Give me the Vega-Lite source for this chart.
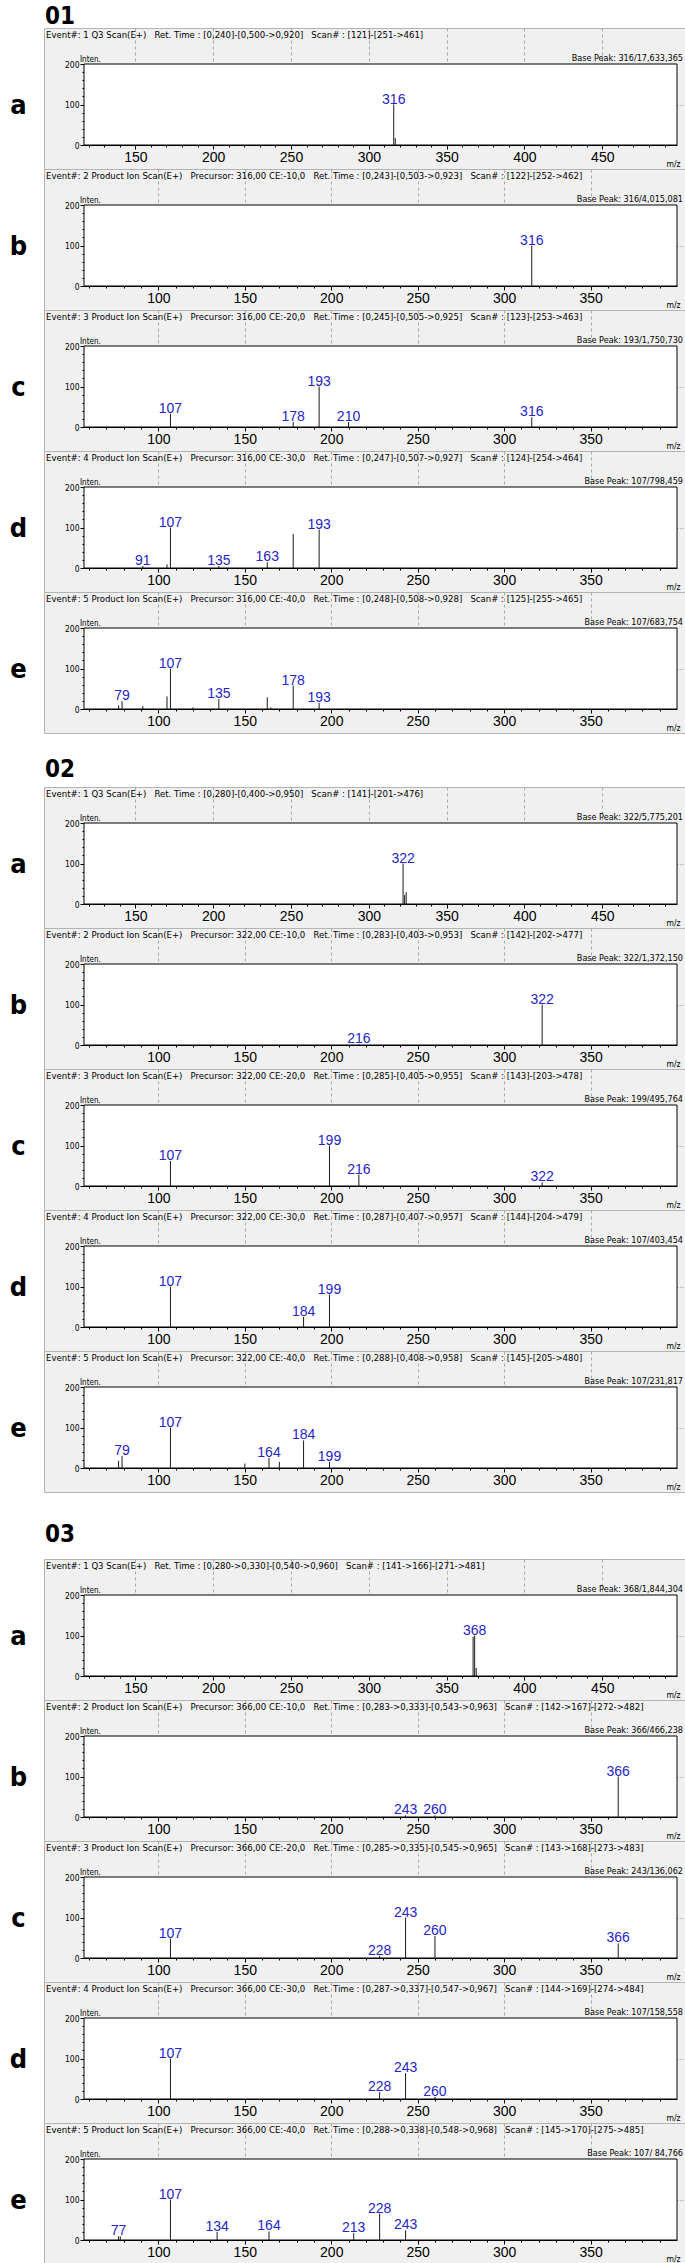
{
"$schema": "https://vega.github.io/schema/vega-lite/v6.json",
"padding": {"left": 8, "top": 5, "right": 0, "bottom": 0},
"background": "#ffffff",
"spacing": 0,
"bounds": "flush",
"config": {
 "view": {"stroke": null},
 "font": "Liberation Sans",
 "title": {"font": "Liberation Sans Narrow, Arial Narrow, DejaVu Sans Condensed, sans-serif", "fontSize": 9.5, "fontWeight": "normal", "color": "#000000", "baseline": "alphabetic", "anchor": "start", "frame": "group", "orient": "top"},
 "axis": {"domainColor": "#000000", "tickColor": "#000000", "tickSize": 4, "labelColor": "#000000", "gridColor": "#a8a8a8", "labelOverlap": false, "labelFlush": false, "zindex": 1, "titleColor": "#000000"},
 "axisX": {"offset": -24, "labelFontSize": 14, "labelFont": "Liberation Sans", "labelPadding": 1, "titleX": 636, "titleY": 21, "titleAlign": "right", "titleBaseline": "alphabetic", "titleFontSize": 8.5, "titleFontWeight": "normal", "titleFont": "Liberation Sans Narrow, Arial Narrow, DejaVu Sans Condensed, sans-serif", "gridDash": [3, 3], "labelExpr": "datum.value % 50 === 0 ? datum.label : ''"},
 "axisY": {"offset": -40, "labelFontSize": 8.5, "labelFont": "Liberation Sans Narrow, Arial Narrow, DejaVu Sans Condensed, sans-serif", "labelPadding": 1, "titleAngle": 0, "titleX": -66, "titleY": 77, "titleAlign": "center", "titleBaseline": "middle", "titleFontSize": 27, "titleFontWeight": "bold", "titleFont": "Liberation Sans Narrow, Arial Narrow, DejaVu Sans Condensed, sans-serif", "gridDash": [2, 2], "labelExpr": "datum.value % 100 === 0 ? datum.label : ''"},
 "text": {"font": "Liberation Sans"}
},
"data": {"values": [
 {"s":"01a","mz":316,"int":100,"lab":"316"},{"s":"01a","mz":317,"int":17,"lab":""},
 {"s":"01b","mz":316,"int":100,"lab":"316"},
 {"s":"01c","mz":107,"int":33,"lab":"107"},{"s":"01c","mz":178,"int":12,"lab":"178"},{"s":"01c","mz":193,"int":100,"lab":"193"},{"s":"01c","mz":210,"int":12,"lab":"210"},{"s":"01c","mz":316,"int":24,"lab":"316"},
 {"s":"01d","mz":91,"int":5,"lab":"91"},{"s":"01d","mz":105,"int":9,"lab":""},{"s":"01d","mz":107,"int":100,"lab":"107"},{"s":"01d","mz":135,"int":5,"lab":"135"},{"s":"01d","mz":163,"int":14,"lab":"163"},{"s":"01d","mz":178,"int":84,"lab":""},{"s":"01d","mz":193,"int":95,"lab":"193"},
 {"s":"01e","mz":77,"int":9,"lab":""},{"s":"01e","mz":79,"int":19,"lab":"79"},{"s":"01e","mz":91,"int":7,"lab":""},{"s":"01e","mz":105,"int":31,"lab":""},{"s":"01e","mz":107,"int":100,"lab":"107"},{"s":"01e","mz":120,"int":4,"lab":""},{"s":"01e","mz":135,"int":25,"lab":"135"},{"s":"01e","mz":163,"int":29,"lab":""},{"s":"01e","mz":165,"int":4,"lab":""},{"s":"01e","mz":178,"int":58,"lab":"178"},{"s":"01e","mz":193,"int":15,"lab":"193"},
 {"s":"02a","mz":322,"int":100,"lab":"322"},{"s":"02a","mz":323,"int":22,"lab":""},{"s":"02a","mz":324,"int":29,"lab":""},
 {"s":"02b","mz":216,"int":2,"lab":"216"},{"s":"02b","mz":322,"int":100,"lab":"322"},
 {"s":"02c","mz":107,"int":62,"lab":"107"},{"s":"02c","mz":199,"int":100,"lab":"199"},{"s":"02c","mz":216,"int":28,"lab":"216"},{"s":"02c","mz":322,"int":9,"lab":"322"},
 {"s":"02d","mz":107,"int":100,"lab":"107"},{"s":"02d","mz":184,"int":25,"lab":"184"},{"s":"02d","mz":199,"int":80,"lab":"199"},
 {"s":"02e","mz":77,"int":18,"lab":""},{"s":"02e","mz":79,"int":30,"lab":"79"},{"s":"02e","mz":107,"int":100,"lab":"107"},{"s":"02e","mz":150,"int":11,"lab":""},{"s":"02e","mz":164,"int":25,"lab":"164"},{"s":"02e","mz":170,"int":15,"lab":""},{"s":"02e","mz":184,"int":68,"lab":"184"},{"s":"02e","mz":199,"int":15,"lab":"199"},
 {"s":"03a","mz":367,"int":97,"lab":""},{"s":"03a","mz":368,"int":100,"lab":"368"},{"s":"03a","mz":369,"int":20,"lab":""},
 {"s":"03b","mz":243,"int":4,"lab":"243"},{"s":"03b","mz":260,"int":4,"lab":"260"},{"s":"03b","mz":366,"int":100,"lab":"366"},
 {"s":"03c","mz":107,"int":48,"lab":"107"},{"s":"03c","mz":228,"int":6,"lab":"228"},{"s":"03c","mz":243,"int":100,"lab":"243"},{"s":"03c","mz":260,"int":54,"lab":"260"},{"s":"03c","mz":366,"int":36,"lab":"366"},
 {"s":"03d","mz":107,"int":100,"lab":"107"},{"s":"03d","mz":228,"int":17,"lab":"228"},{"s":"03d","mz":243,"int":64,"lab":"243"},{"s":"03d","mz":260,"int":5,"lab":"260"},
 {"s":"03e","mz":77,"int":9,"lab":"77"},{"s":"03e","mz":78,"int":9,"lab":""},{"s":"03e","mz":107,"int":100,"lab":"107"},{"s":"03e","mz":134,"int":20,"lab":"134"},{"s":"03e","mz":164,"int":21,"lab":"164"},{"s":"03e","mz":213,"int":17,"lab":"213"},{"s":"03e","mz":228,"int":65,"lab":"228"},{"s":"03e","mz":243,"int":24,"lab":"243"}
]},
"vconcat": [
 {"width": 644, "height": 21, "data": {"values": []}, "mark": "point", "title": {"text": "01", "offset": -22, "dx": 1, "fontSize": 24, "fontWeight": "bold"}},
 {"width": 644, "height": 141, "view": {"fill": "#f0f0f0", "stroke": "#b4b4b4"},
  "title": {"text": "Event#: 1 Q3 Scan(E+)\u00a0\u00a0\u00a0Ret. Time : [0,240]-[0,500->0,920]\u00a0\u00a0\u00a0Scan# : [121]-[251->461]", "offset": -11.5, "dx": 2},
  "layer": [
   {"data": {"values": [{}]}, "mark": {"type": "rect", "fill": "#ffffff", "stroke": "#000000", "strokeWidth": 1}, "encoding": {"x": {"datum": 117, "type": "quantitative"}, "x2": {"datum": 498}, "y": {"datum": 0, "type": "quantitative"}, "y2": {"datum": 200}}},
   {"transform": [{"filter": "datum.s === '01a'"}], "mark": {"type": "rule", "color": "#1a1a1a", "strokeWidth": 1}, "encoding": {
     "x": {"field": "mz", "type": "quantitative", "scale": {"domain": [117, 498], "range": [40, 633], "nice": false, "zero": false}, "axis": {"title": "m/z", "tickCount": 100, "grid": true, "values": [120,130,140,150,160,170,180,190,200,210,220,230,240,250,260,270,280,290,300,310,320,330,340,350,360,370,380,390,400,410,420,430,440,450,460,470,480,490], "tickDash": {"condition": {"test": "datum.value % 50 === 0", "value": [10, 0]}, "value": [2, 10]}, "gridOpacity": {"condition": {"test": "datum.value % 50 === 0", "value": 1}, "value": 0}}},
     "y": {"field": "int", "type": "quantitative", "scale": {"domain": [0, 200], "range": [117, 36], "nice": false, "zero": false}, "axis": {"title": "a", "tickCount": 100, "grid": true, "values": [0,20,40,60,80,100,120,140,160,180,200], "tickDash": {"condition": {"test": "datum.value % 100 === 0", "value": [10, 0]}, "value": [2, 10]}, "gridOpacity": {"condition": {"test": "datum.value === 100", "value": 1}, "value": 0}}},
     "y2": {"datum": 0}}},
   {"transform": [{"filter": "datum.s === '01a' && datum.lab !== ''"}], "mark": {"type": "text", "color": "#2626c8", "fontSize": 14, "baseline": "alphabetic", "dy": -1}, "encoding": {"x": {"field": "mz", "type": "quantitative"}, "y": {"field": "int", "type": "quantitative"}, "text": {"field": "lab"}}},
   {"data": {"values": [{}]}, "mark": {"type": "text", "text": "Inten.", "align": "left", "baseline": "alphabetic", "dx": -4, "dy": -2, "fontSize": 8, "font": "Liberation Sans Narrow, Arial Narrow, DejaVu Sans Condensed, sans-serif"}, "encoding": {"x": {"datum": 117, "type": "quantitative"}, "y": {"datum": 200, "type": "quantitative"}}},
   {"data": {"values": [{}]}, "mark": {"type": "text", "text": "Base Peak: 316/17,633,365", "align": "right", "baseline": "alphabetic", "dx": 6, "dy": -3, "fontSize": 9, "font": "Liberation Sans Narrow, Arial Narrow, DejaVu Sans Condensed, sans-serif"}, "encoding": {"x": {"datum": 498, "type": "quantitative"}, "y": {"datum": 200, "type": "quantitative"}}}
  ]},
 {"width": 644, "height": 141, "view": {"fill": "#f0f0f0", "stroke": "#b4b4b4"},
  "title": {"text": "Event#: 2 Product Ion Scan(E+)\u00a0\u00a0\u00a0Precursor: 316,00 CE:-10,0\u00a0\u00a0\u00a0Ret. Time : [0,243]-[0,503->0,923]\u00a0\u00a0\u00a0Scan# : [122]-[252->462]", "offset": -11.5, "dx": 2},
  "layer": [
   {"data": {"values": [{}]}, "mark": {"type": "rect", "fill": "#ffffff", "stroke": "#000000", "strokeWidth": 1}, "encoding": {"x": {"datum": 57, "type": "quantitative"}, "x2": {"datum": 400}, "y": {"datum": 0, "type": "quantitative"}, "y2": {"datum": 200}}},
   {"transform": [{"filter": "datum.s === '01b'"}], "mark": {"type": "rule", "color": "#1a1a1a", "strokeWidth": 1}, "encoding": {
     "x": {"field": "mz", "type": "quantitative", "scale": {"domain": [57, 400], "range": [40, 633], "nice": false, "zero": false}, "axis": {"title": "m/z", "tickCount": 100, "grid": true, "values": [60,70,80,90,100,110,120,130,140,150,160,170,180,190,200,210,220,230,240,250,260,270,280,290,300,310,320,330,340,350,360,370,380,390], "tickDash": {"condition": {"test": "datum.value % 50 === 0", "value": [10, 0]}, "value": [2, 10]}, "gridOpacity": {"condition": {"test": "datum.value % 50 === 0", "value": 1}, "value": 0}}},
     "y": {"field": "int", "type": "quantitative", "scale": {"domain": [0, 200], "range": [117, 36], "nice": false, "zero": false}, "axis": {"title": "b", "tickCount": 100, "grid": true, "values": [0,20,40,60,80,100,120,140,160,180,200], "tickDash": {"condition": {"test": "datum.value % 100 === 0", "value": [10, 0]}, "value": [2, 10]}, "gridOpacity": {"condition": {"test": "datum.value === 100", "value": 1}, "value": 0}}},
     "y2": {"datum": 0}}},
   {"transform": [{"filter": "datum.s === '01b' && datum.lab !== ''"}], "mark": {"type": "text", "color": "#2626c8", "fontSize": 14, "baseline": "alphabetic", "dy": -1}, "encoding": {"x": {"field": "mz", "type": "quantitative"}, "y": {"field": "int", "type": "quantitative"}, "text": {"field": "lab"}}},
   {"data": {"values": [{}]}, "mark": {"type": "text", "text": "Inten.", "align": "left", "baseline": "alphabetic", "dx": -4, "dy": -2, "fontSize": 8, "font": "Liberation Sans Narrow, Arial Narrow, DejaVu Sans Condensed, sans-serif"}, "encoding": {"x": {"datum": 57, "type": "quantitative"}, "y": {"datum": 200, "type": "quantitative"}}},
   {"data": {"values": [{}]}, "mark": {"type": "text", "text": "Base Peak: 316/4,015,081", "align": "right", "baseline": "alphabetic", "dx": 6, "dy": -3, "fontSize": 9, "font": "Liberation Sans Narrow, Arial Narrow, DejaVu Sans Condensed, sans-serif"}, "encoding": {"x": {"datum": 400, "type": "quantitative"}, "y": {"datum": 200, "type": "quantitative"}}}
  ]},
 {"width": 644, "height": 141, "view": {"fill": "#f0f0f0", "stroke": "#b4b4b4"},
  "title": {"text": "Event#: 3 Product Ion Scan(E+)\u00a0\u00a0\u00a0Precursor: 316,00 CE:-20,0\u00a0\u00a0\u00a0Ret. Time : [0,245]-[0,505->0,925]\u00a0\u00a0\u00a0Scan# : [123]-[253->463]", "offset": -11.5, "dx": 2},
  "layer": [
   {"data": {"values": [{}]}, "mark": {"type": "rect", "fill": "#ffffff", "stroke": "#000000", "strokeWidth": 1}, "encoding": {"x": {"datum": 57, "type": "quantitative"}, "x2": {"datum": 400}, "y": {"datum": 0, "type": "quantitative"}, "y2": {"datum": 200}}},
   {"transform": [{"filter": "datum.s === '01c'"}], "mark": {"type": "rule", "color": "#1a1a1a", "strokeWidth": 1}, "encoding": {
     "x": {"field": "mz", "type": "quantitative", "scale": {"domain": [57, 400], "range": [40, 633], "nice": false, "zero": false}, "axis": {"title": "m/z", "tickCount": 100, "grid": true, "values": [60,70,80,90,100,110,120,130,140,150,160,170,180,190,200,210,220,230,240,250,260,270,280,290,300,310,320,330,340,350,360,370,380,390], "tickDash": {"condition": {"test": "datum.value % 50 === 0", "value": [10, 0]}, "value": [2, 10]}, "gridOpacity": {"condition": {"test": "datum.value % 50 === 0", "value": 1}, "value": 0}}},
     "y": {"field": "int", "type": "quantitative", "scale": {"domain": [0, 200], "range": [117, 36], "nice": false, "zero": false}, "axis": {"title": "c", "tickCount": 100, "grid": true, "values": [0,20,40,60,80,100,120,140,160,180,200], "tickDash": {"condition": {"test": "datum.value % 100 === 0", "value": [10, 0]}, "value": [2, 10]}, "gridOpacity": {"condition": {"test": "datum.value === 100", "value": 1}, "value": 0}}},
     "y2": {"datum": 0}}},
   {"transform": [{"filter": "datum.s === '01c' && datum.lab !== ''"}], "mark": {"type": "text", "color": "#2626c8", "fontSize": 14, "baseline": "alphabetic", "dy": -1}, "encoding": {"x": {"field": "mz", "type": "quantitative"}, "y": {"field": "int", "type": "quantitative"}, "text": {"field": "lab"}}},
   {"data": {"values": [{}]}, "mark": {"type": "text", "text": "Inten.", "align": "left", "baseline": "alphabetic", "dx": -4, "dy": -2, "fontSize": 8, "font": "Liberation Sans Narrow, Arial Narrow, DejaVu Sans Condensed, sans-serif"}, "encoding": {"x": {"datum": 57, "type": "quantitative"}, "y": {"datum": 200, "type": "quantitative"}}},
   {"data": {"values": [{}]}, "mark": {"type": "text", "text": "Base Peak: 193/1,750,730", "align": "right", "baseline": "alphabetic", "dx": 6, "dy": -3, "fontSize": 9, "font": "Liberation Sans Narrow, Arial Narrow, DejaVu Sans Condensed, sans-serif"}, "encoding": {"x": {"datum": 400, "type": "quantitative"}, "y": {"datum": 200, "type": "quantitative"}}}
  ]},
 {"width": 644, "height": 141, "view": {"fill": "#f0f0f0", "stroke": "#b4b4b4"},
  "title": {"text": "Event#: 4 Product Ion Scan(E+)\u00a0\u00a0\u00a0Precursor: 316,00 CE:-30,0\u00a0\u00a0\u00a0Ret. Time : [0,247]-[0,507->0,927]\u00a0\u00a0\u00a0Scan# : [124]-[254->464]", "offset": -11.5, "dx": 2},
  "layer": [
   {"data": {"values": [{}]}, "mark": {"type": "rect", "fill": "#ffffff", "stroke": "#000000", "strokeWidth": 1}, "encoding": {"x": {"datum": 57, "type": "quantitative"}, "x2": {"datum": 400}, "y": {"datum": 0, "type": "quantitative"}, "y2": {"datum": 200}}},
   {"transform": [{"filter": "datum.s === '01d'"}], "mark": {"type": "rule", "color": "#1a1a1a", "strokeWidth": 1}, "encoding": {
     "x": {"field": "mz", "type": "quantitative", "scale": {"domain": [57, 400], "range": [40, 633], "nice": false, "zero": false}, "axis": {"title": "m/z", "tickCount": 100, "grid": true, "values": [60,70,80,90,100,110,120,130,140,150,160,170,180,190,200,210,220,230,240,250,260,270,280,290,300,310,320,330,340,350,360,370,380,390], "tickDash": {"condition": {"test": "datum.value % 50 === 0", "value": [10, 0]}, "value": [2, 10]}, "gridOpacity": {"condition": {"test": "datum.value % 50 === 0", "value": 1}, "value": 0}}},
     "y": {"field": "int", "type": "quantitative", "scale": {"domain": [0, 200], "range": [117, 36], "nice": false, "zero": false}, "axis": {"title": "d", "tickCount": 100, "grid": true, "values": [0,20,40,60,80,100,120,140,160,180,200], "tickDash": {"condition": {"test": "datum.value % 100 === 0", "value": [10, 0]}, "value": [2, 10]}, "gridOpacity": {"condition": {"test": "datum.value === 100", "value": 1}, "value": 0}}},
     "y2": {"datum": 0}}},
   {"transform": [{"filter": "datum.s === '01d' && datum.lab !== ''"}], "mark": {"type": "text", "color": "#2626c8", "fontSize": 14, "baseline": "alphabetic", "dy": -1}, "encoding": {"x": {"field": "mz", "type": "quantitative"}, "y": {"field": "int", "type": "quantitative"}, "text": {"field": "lab"}}},
   {"data": {"values": [{}]}, "mark": {"type": "text", "text": "Inten.", "align": "left", "baseline": "alphabetic", "dx": -4, "dy": -2, "fontSize": 8, "font": "Liberation Sans Narrow, Arial Narrow, DejaVu Sans Condensed, sans-serif"}, "encoding": {"x": {"datum": 57, "type": "quantitative"}, "y": {"datum": 200, "type": "quantitative"}}},
   {"data": {"values": [{}]}, "mark": {"type": "text", "text": "Base Peak: 107/798,459", "align": "right", "baseline": "alphabetic", "dx": 6, "dy": -3, "fontSize": 9, "font": "Liberation Sans Narrow, Arial Narrow, DejaVu Sans Condensed, sans-serif"}, "encoding": {"x": {"datum": 400, "type": "quantitative"}, "y": {"datum": 200, "type": "quantitative"}}}
  ]},
 {"width": 644, "height": 141, "view": {"fill": "#f0f0f0", "stroke": "#b4b4b4"},
  "title": {"text": "Event#: 5 Product Ion Scan(E+)\u00a0\u00a0\u00a0Precursor: 316,00 CE:-40,0\u00a0\u00a0\u00a0Ret. Time : [0,248]-[0,508->0,928]\u00a0\u00a0\u00a0Scan# : [125]-[255->465]", "offset": -11.5, "dx": 2},
  "layer": [
   {"data": {"values": [{}]}, "mark": {"type": "rect", "fill": "#ffffff", "stroke": "#000000", "strokeWidth": 1}, "encoding": {"x": {"datum": 57, "type": "quantitative"}, "x2": {"datum": 400}, "y": {"datum": 0, "type": "quantitative"}, "y2": {"datum": 200}}},
   {"transform": [{"filter": "datum.s === '01e'"}], "mark": {"type": "rule", "color": "#1a1a1a", "strokeWidth": 1}, "encoding": {
     "x": {"field": "mz", "type": "quantitative", "scale": {"domain": [57, 400], "range": [40, 633], "nice": false, "zero": false}, "axis": {"title": "m/z", "tickCount": 100, "grid": true, "values": [60,70,80,90,100,110,120,130,140,150,160,170,180,190,200,210,220,230,240,250,260,270,280,290,300,310,320,330,340,350,360,370,380,390], "tickDash": {"condition": {"test": "datum.value % 50 === 0", "value": [10, 0]}, "value": [2, 10]}, "gridOpacity": {"condition": {"test": "datum.value % 50 === 0", "value": 1}, "value": 0}}},
     "y": {"field": "int", "type": "quantitative", "scale": {"domain": [0, 200], "range": [117, 36], "nice": false, "zero": false}, "axis": {"title": "e", "tickCount": 100, "grid": true, "values": [0,20,40,60,80,100,120,140,160,180,200], "tickDash": {"condition": {"test": "datum.value % 100 === 0", "value": [10, 0]}, "value": [2, 10]}, "gridOpacity": {"condition": {"test": "datum.value === 100", "value": 1}, "value": 0}}},
     "y2": {"datum": 0}}},
   {"transform": [{"filter": "datum.s === '01e' && datum.lab !== ''"}], "mark": {"type": "text", "color": "#2626c8", "fontSize": 14, "baseline": "alphabetic", "dy": -1}, "encoding": {"x": {"field": "mz", "type": "quantitative"}, "y": {"field": "int", "type": "quantitative"}, "text": {"field": "lab"}}},
   {"data": {"values": [{}]}, "mark": {"type": "text", "text": "Inten.", "align": "left", "baseline": "alphabetic", "dx": -4, "dy": -2, "fontSize": 8, "font": "Liberation Sans Narrow, Arial Narrow, DejaVu Sans Condensed, sans-serif"}, "encoding": {"x": {"datum": 57, "type": "quantitative"}, "y": {"datum": 200, "type": "quantitative"}}},
   {"data": {"values": [{}]}, "mark": {"type": "text", "text": "Base Peak: 107/683,754", "align": "right", "baseline": "alphabetic", "dx": 6, "dy": -3, "fontSize": 9, "font": "Liberation Sans Narrow, Arial Narrow, DejaVu Sans Condensed, sans-serif"}, "encoding": {"x": {"datum": 400, "type": "quantitative"}, "y": {"datum": 200, "type": "quantitative"}}}
  ]},
 {"width": 644, "height": 54, "data": {"values": []}, "mark": "point", "title": {"text": "02", "offset": -49, "dx": 1, "fontSize": 24, "fontWeight": "bold"}},
 {"width": 644, "height": 141, "view": {"fill": "#f0f0f0", "stroke": "#b4b4b4"},
  "title": {"text": "Event#: 1 Q3 Scan(E+)\u00a0\u00a0\u00a0Ret. Time : [0,280]-[0,400->0,950]\u00a0\u00a0\u00a0Scan# : [141]-[201->476]", "offset": -11.5, "dx": 2},
  "layer": [
   {"data": {"values": [{}]}, "mark": {"type": "rect", "fill": "#ffffff", "stroke": "#000000", "strokeWidth": 1}, "encoding": {"x": {"datum": 117, "type": "quantitative"}, "x2": {"datum": 498}, "y": {"datum": 0, "type": "quantitative"}, "y2": {"datum": 200}}},
   {"transform": [{"filter": "datum.s === '02a'"}], "mark": {"type": "rule", "color": "#1a1a1a", "strokeWidth": 1}, "encoding": {
     "x": {"field": "mz", "type": "quantitative", "scale": {"domain": [117, 498], "range": [40, 633], "nice": false, "zero": false}, "axis": {"title": "m/z", "tickCount": 100, "grid": true, "values": [120,130,140,150,160,170,180,190,200,210,220,230,240,250,260,270,280,290,300,310,320,330,340,350,360,370,380,390,400,410,420,430,440,450,460,470,480,490], "tickDash": {"condition": {"test": "datum.value % 50 === 0", "value": [10, 0]}, "value": [2, 10]}, "gridOpacity": {"condition": {"test": "datum.value % 50 === 0", "value": 1}, "value": 0}}},
     "y": {"field": "int", "type": "quantitative", "scale": {"domain": [0, 200], "range": [117, 36], "nice": false, "zero": false}, "axis": {"title": "a", "tickCount": 100, "grid": true, "values": [0,20,40,60,80,100,120,140,160,180,200], "tickDash": {"condition": {"test": "datum.value % 100 === 0", "value": [10, 0]}, "value": [2, 10]}, "gridOpacity": {"condition": {"test": "datum.value === 100", "value": 1}, "value": 0}}},
     "y2": {"datum": 0}}},
   {"transform": [{"filter": "datum.s === '02a' && datum.lab !== ''"}], "mark": {"type": "text", "color": "#2626c8", "fontSize": 14, "baseline": "alphabetic", "dy": -1}, "encoding": {"x": {"field": "mz", "type": "quantitative"}, "y": {"field": "int", "type": "quantitative"}, "text": {"field": "lab"}}},
   {"data": {"values": [{}]}, "mark": {"type": "text", "text": "Inten.", "align": "left", "baseline": "alphabetic", "dx": -4, "dy": -2, "fontSize": 8, "font": "Liberation Sans Narrow, Arial Narrow, DejaVu Sans Condensed, sans-serif"}, "encoding": {"x": {"datum": 117, "type": "quantitative"}, "y": {"datum": 200, "type": "quantitative"}}},
   {"data": {"values": [{}]}, "mark": {"type": "text", "text": "Base Peak: 322/5,775,201", "align": "right", "baseline": "alphabetic", "dx": 6, "dy": -3, "fontSize": 9, "font": "Liberation Sans Narrow, Arial Narrow, DejaVu Sans Condensed, sans-serif"}, "encoding": {"x": {"datum": 498, "type": "quantitative"}, "y": {"datum": 200, "type": "quantitative"}}}
  ]},
 {"width": 644, "height": 141, "view": {"fill": "#f0f0f0", "stroke": "#b4b4b4"},
  "title": {"text": "Event#: 2 Product Ion Scan(E+)\u00a0\u00a0\u00a0Precursor: 322,00 CE:-10,0\u00a0\u00a0\u00a0Ret. Time : [0,283]-[0,403->0,953]\u00a0\u00a0\u00a0Scan# : [142]-[202->477]", "offset": -11.5, "dx": 2},
  "layer": [
   {"data": {"values": [{}]}, "mark": {"type": "rect", "fill": "#ffffff", "stroke": "#000000", "strokeWidth": 1}, "encoding": {"x": {"datum": 57, "type": "quantitative"}, "x2": {"datum": 400}, "y": {"datum": 0, "type": "quantitative"}, "y2": {"datum": 200}}},
   {"transform": [{"filter": "datum.s === '02b'"}], "mark": {"type": "rule", "color": "#1a1a1a", "strokeWidth": 1}, "encoding": {
     "x": {"field": "mz", "type": "quantitative", "scale": {"domain": [57, 400], "range": [40, 633], "nice": false, "zero": false}, "axis": {"title": "m/z", "tickCount": 100, "grid": true, "values": [60,70,80,90,100,110,120,130,140,150,160,170,180,190,200,210,220,230,240,250,260,270,280,290,300,310,320,330,340,350,360,370,380,390], "tickDash": {"condition": {"test": "datum.value % 50 === 0", "value": [10, 0]}, "value": [2, 10]}, "gridOpacity": {"condition": {"test": "datum.value % 50 === 0", "value": 1}, "value": 0}}},
     "y": {"field": "int", "type": "quantitative", "scale": {"domain": [0, 200], "range": [117, 36], "nice": false, "zero": false}, "axis": {"title": "b", "tickCount": 100, "grid": true, "values": [0,20,40,60,80,100,120,140,160,180,200], "tickDash": {"condition": {"test": "datum.value % 100 === 0", "value": [10, 0]}, "value": [2, 10]}, "gridOpacity": {"condition": {"test": "datum.value === 100", "value": 1}, "value": 0}}},
     "y2": {"datum": 0}}},
   {"transform": [{"filter": "datum.s === '02b' && datum.lab !== ''"}], "mark": {"type": "text", "color": "#2626c8", "fontSize": 14, "baseline": "alphabetic", "dy": -1}, "encoding": {"x": {"field": "mz", "type": "quantitative"}, "y": {"field": "int", "type": "quantitative"}, "text": {"field": "lab"}}},
   {"data": {"values": [{}]}, "mark": {"type": "text", "text": "Inten.", "align": "left", "baseline": "alphabetic", "dx": -4, "dy": -2, "fontSize": 8, "font": "Liberation Sans Narrow, Arial Narrow, DejaVu Sans Condensed, sans-serif"}, "encoding": {"x": {"datum": 57, "type": "quantitative"}, "y": {"datum": 200, "type": "quantitative"}}},
   {"data": {"values": [{}]}, "mark": {"type": "text", "text": "Base Peak: 322/1,372,150", "align": "right", "baseline": "alphabetic", "dx": 6, "dy": -3, "fontSize": 9, "font": "Liberation Sans Narrow, Arial Narrow, DejaVu Sans Condensed, sans-serif"}, "encoding": {"x": {"datum": 400, "type": "quantitative"}, "y": {"datum": 200, "type": "quantitative"}}}
  ]},
 {"width": 644, "height": 141, "view": {"fill": "#f0f0f0", "stroke": "#b4b4b4"},
  "title": {"text": "Event#: 3 Product Ion Scan(E+)\u00a0\u00a0\u00a0Precursor: 322,00 CE:-20,0\u00a0\u00a0\u00a0Ret. Time : [0,285]-[0,405->0,955]\u00a0\u00a0\u00a0Scan# : [143]-[203->478]", "offset": -11.5, "dx": 2},
  "layer": [
   {"data": {"values": [{}]}, "mark": {"type": "rect", "fill": "#ffffff", "stroke": "#000000", "strokeWidth": 1}, "encoding": {"x": {"datum": 57, "type": "quantitative"}, "x2": {"datum": 400}, "y": {"datum": 0, "type": "quantitative"}, "y2": {"datum": 200}}},
   {"transform": [{"filter": "datum.s === '02c'"}], "mark": {"type": "rule", "color": "#1a1a1a", "strokeWidth": 1}, "encoding": {
     "x": {"field": "mz", "type": "quantitative", "scale": {"domain": [57, 400], "range": [40, 633], "nice": false, "zero": false}, "axis": {"title": "m/z", "tickCount": 100, "grid": true, "values": [60,70,80,90,100,110,120,130,140,150,160,170,180,190,200,210,220,230,240,250,260,270,280,290,300,310,320,330,340,350,360,370,380,390], "tickDash": {"condition": {"test": "datum.value % 50 === 0", "value": [10, 0]}, "value": [2, 10]}, "gridOpacity": {"condition": {"test": "datum.value % 50 === 0", "value": 1}, "value": 0}}},
     "y": {"field": "int", "type": "quantitative", "scale": {"domain": [0, 200], "range": [117, 36], "nice": false, "zero": false}, "axis": {"title": "c", "tickCount": 100, "grid": true, "values": [0,20,40,60,80,100,120,140,160,180,200], "tickDash": {"condition": {"test": "datum.value % 100 === 0", "value": [10, 0]}, "value": [2, 10]}, "gridOpacity": {"condition": {"test": "datum.value === 100", "value": 1}, "value": 0}}},
     "y2": {"datum": 0}}},
   {"transform": [{"filter": "datum.s === '02c' && datum.lab !== ''"}], "mark": {"type": "text", "color": "#2626c8", "fontSize": 14, "baseline": "alphabetic", "dy": -1}, "encoding": {"x": {"field": "mz", "type": "quantitative"}, "y": {"field": "int", "type": "quantitative"}, "text": {"field": "lab"}}},
   {"data": {"values": [{}]}, "mark": {"type": "text", "text": "Inten.", "align": "left", "baseline": "alphabetic", "dx": -4, "dy": -2, "fontSize": 8, "font": "Liberation Sans Narrow, Arial Narrow, DejaVu Sans Condensed, sans-serif"}, "encoding": {"x": {"datum": 57, "type": "quantitative"}, "y": {"datum": 200, "type": "quantitative"}}},
   {"data": {"values": [{}]}, "mark": {"type": "text", "text": "Base Peak: 199/495,764", "align": "right", "baseline": "alphabetic", "dx": 6, "dy": -3, "fontSize": 9, "font": "Liberation Sans Narrow, Arial Narrow, DejaVu Sans Condensed, sans-serif"}, "encoding": {"x": {"datum": 400, "type": "quantitative"}, "y": {"datum": 200, "type": "quantitative"}}}
  ]},
 {"width": 644, "height": 141, "view": {"fill": "#f0f0f0", "stroke": "#b4b4b4"},
  "title": {"text": "Event#: 4 Product Ion Scan(E+)\u00a0\u00a0\u00a0Precursor: 322,00 CE:-30,0\u00a0\u00a0\u00a0Ret. Time : [0,287]-[0,407->0,957]\u00a0\u00a0\u00a0Scan# : [144]-[204->479]", "offset": -11.5, "dx": 2},
  "layer": [
   {"data": {"values": [{}]}, "mark": {"type": "rect", "fill": "#ffffff", "stroke": "#000000", "strokeWidth": 1}, "encoding": {"x": {"datum": 57, "type": "quantitative"}, "x2": {"datum": 400}, "y": {"datum": 0, "type": "quantitative"}, "y2": {"datum": 200}}},
   {"transform": [{"filter": "datum.s === '02d'"}], "mark": {"type": "rule", "color": "#1a1a1a", "strokeWidth": 1}, "encoding": {
     "x": {"field": "mz", "type": "quantitative", "scale": {"domain": [57, 400], "range": [40, 633], "nice": false, "zero": false}, "axis": {"title": "m/z", "tickCount": 100, "grid": true, "values": [60,70,80,90,100,110,120,130,140,150,160,170,180,190,200,210,220,230,240,250,260,270,280,290,300,310,320,330,340,350,360,370,380,390], "tickDash": {"condition": {"test": "datum.value % 50 === 0", "value": [10, 0]}, "value": [2, 10]}, "gridOpacity": {"condition": {"test": "datum.value % 50 === 0", "value": 1}, "value": 0}}},
     "y": {"field": "int", "type": "quantitative", "scale": {"domain": [0, 200], "range": [117, 36], "nice": false, "zero": false}, "axis": {"title": "d", "tickCount": 100, "grid": true, "values": [0,20,40,60,80,100,120,140,160,180,200], "tickDash": {"condition": {"test": "datum.value % 100 === 0", "value": [10, 0]}, "value": [2, 10]}, "gridOpacity": {"condition": {"test": "datum.value === 100", "value": 1}, "value": 0}}},
     "y2": {"datum": 0}}},
   {"transform": [{"filter": "datum.s === '02d' && datum.lab !== ''"}], "mark": {"type": "text", "color": "#2626c8", "fontSize": 14, "baseline": "alphabetic", "dy": -1}, "encoding": {"x": {"field": "mz", "type": "quantitative"}, "y": {"field": "int", "type": "quantitative"}, "text": {"field": "lab"}}},
   {"data": {"values": [{}]}, "mark": {"type": "text", "text": "Inten.", "align": "left", "baseline": "alphabetic", "dx": -4, "dy": -2, "fontSize": 8, "font": "Liberation Sans Narrow, Arial Narrow, DejaVu Sans Condensed, sans-serif"}, "encoding": {"x": {"datum": 57, "type": "quantitative"}, "y": {"datum": 200, "type": "quantitative"}}},
   {"data": {"values": [{}]}, "mark": {"type": "text", "text": "Base Peak: 107/403,454", "align": "right", "baseline": "alphabetic", "dx": 6, "dy": -3, "fontSize": 9, "font": "Liberation Sans Narrow, Arial Narrow, DejaVu Sans Condensed, sans-serif"}, "encoding": {"x": {"datum": 400, "type": "quantitative"}, "y": {"datum": 200, "type": "quantitative"}}}
  ]},
 {"width": 644, "height": 141, "view": {"fill": "#f0f0f0", "stroke": "#b4b4b4"},
  "title": {"text": "Event#: 5 Product Ion Scan(E+)\u00a0\u00a0\u00a0Precursor: 322,00 CE:-40,0\u00a0\u00a0\u00a0Ret. Time : [0,288]-[0,408->0,958]\u00a0\u00a0\u00a0Scan# : [145]-[205->480]", "offset": -11.5, "dx": 2},
  "layer": [
   {"data": {"values": [{}]}, "mark": {"type": "rect", "fill": "#ffffff", "stroke": "#000000", "strokeWidth": 1}, "encoding": {"x": {"datum": 57, "type": "quantitative"}, "x2": {"datum": 400}, "y": {"datum": 0, "type": "quantitative"}, "y2": {"datum": 200}}},
   {"transform": [{"filter": "datum.s === '02e'"}], "mark": {"type": "rule", "color": "#1a1a1a", "strokeWidth": 1}, "encoding": {
     "x": {"field": "mz", "type": "quantitative", "scale": {"domain": [57, 400], "range": [40, 633], "nice": false, "zero": false}, "axis": {"title": "m/z", "tickCount": 100, "grid": true, "values": [60,70,80,90,100,110,120,130,140,150,160,170,180,190,200,210,220,230,240,250,260,270,280,290,300,310,320,330,340,350,360,370,380,390], "tickDash": {"condition": {"test": "datum.value % 50 === 0", "value": [10, 0]}, "value": [2, 10]}, "gridOpacity": {"condition": {"test": "datum.value % 50 === 0", "value": 1}, "value": 0}}},
     "y": {"field": "int", "type": "quantitative", "scale": {"domain": [0, 200], "range": [117, 36], "nice": false, "zero": false}, "axis": {"title": "e", "tickCount": 100, "grid": true, "values": [0,20,40,60,80,100,120,140,160,180,200], "tickDash": {"condition": {"test": "datum.value % 100 === 0", "value": [10, 0]}, "value": [2, 10]}, "gridOpacity": {"condition": {"test": "datum.value === 100", "value": 1}, "value": 0}}},
     "y2": {"datum": 0}}},
   {"transform": [{"filter": "datum.s === '02e' && datum.lab !== ''"}], "mark": {"type": "text", "color": "#2626c8", "fontSize": 14, "baseline": "alphabetic", "dy": -1}, "encoding": {"x": {"field": "mz", "type": "quantitative"}, "y": {"field": "int", "type": "quantitative"}, "text": {"field": "lab"}}},
   {"data": {"values": [{}]}, "mark": {"type": "text", "text": "Inten.", "align": "left", "baseline": "alphabetic", "dx": -4, "dy": -2, "fontSize": 8, "font": "Liberation Sans Narrow, Arial Narrow, DejaVu Sans Condensed, sans-serif"}, "encoding": {"x": {"datum": 57, "type": "quantitative"}, "y": {"datum": 200, "type": "quantitative"}}},
   {"data": {"values": [{}]}, "mark": {"type": "text", "text": "Base Peak: 107/231,817", "align": "right", "baseline": "alphabetic", "dx": 6, "dy": -3, "fontSize": 9, "font": "Liberation Sans Narrow, Arial Narrow, DejaVu Sans Condensed, sans-serif"}, "encoding": {"x": {"datum": 400, "type": "quantitative"}, "y": {"datum": 200, "type": "quantitative"}}}
  ]},
 {"width": 644, "height": 67, "data": {"values": []}, "mark": "point", "title": {"text": "03", "offset": -55, "dx": 1, "fontSize": 24, "fontWeight": "bold"}},
 {"width": 644, "height": 141, "view": {"fill": "#f0f0f0", "stroke": "#b4b4b4"},
  "title": {"text": "Event#: 1 Q3 Scan(E+)\u00a0\u00a0\u00a0Ret. Time : [0,280->0,330]-[0,540->0,960]\u00a0\u00a0\u00a0Scan# : [141->166]-[271->481]", "offset": -11.5, "dx": 2},
  "layer": [
   {"data": {"values": [{}]}, "mark": {"type": "rect", "fill": "#ffffff", "stroke": "#000000", "strokeWidth": 1}, "encoding": {"x": {"datum": 117, "type": "quantitative"}, "x2": {"datum": 498}, "y": {"datum": 0, "type": "quantitative"}, "y2": {"datum": 200}}},
   {"transform": [{"filter": "datum.s === '03a'"}], "mark": {"type": "rule", "color": "#1a1a1a", "strokeWidth": 1}, "encoding": {
     "x": {"field": "mz", "type": "quantitative", "scale": {"domain": [117, 498], "range": [40, 633], "nice": false, "zero": false}, "axis": {"title": "m/z", "tickCount": 100, "grid": true, "values": [120,130,140,150,160,170,180,190,200,210,220,230,240,250,260,270,280,290,300,310,320,330,340,350,360,370,380,390,400,410,420,430,440,450,460,470,480,490], "tickDash": {"condition": {"test": "datum.value % 50 === 0", "value": [10, 0]}, "value": [2, 10]}, "gridOpacity": {"condition": {"test": "datum.value % 50 === 0", "value": 1}, "value": 0}}},
     "y": {"field": "int", "type": "quantitative", "scale": {"domain": [0, 200], "range": [117, 36], "nice": false, "zero": false}, "axis": {"title": "a", "tickCount": 100, "grid": true, "values": [0,20,40,60,80,100,120,140,160,180,200], "tickDash": {"condition": {"test": "datum.value % 100 === 0", "value": [10, 0]}, "value": [2, 10]}, "gridOpacity": {"condition": {"test": "datum.value === 100", "value": 1}, "value": 0}}},
     "y2": {"datum": 0}}},
   {"transform": [{"filter": "datum.s === '03a' && datum.lab !== ''"}], "mark": {"type": "text", "color": "#2626c8", "fontSize": 14, "baseline": "alphabetic", "dy": -1}, "encoding": {"x": {"field": "mz", "type": "quantitative"}, "y": {"field": "int", "type": "quantitative"}, "text": {"field": "lab"}}},
   {"data": {"values": [{}]}, "mark": {"type": "text", "text": "Inten.", "align": "left", "baseline": "alphabetic", "dx": -4, "dy": -2, "fontSize": 8, "font": "Liberation Sans Narrow, Arial Narrow, DejaVu Sans Condensed, sans-serif"}, "encoding": {"x": {"datum": 117, "type": "quantitative"}, "y": {"datum": 200, "type": "quantitative"}}},
   {"data": {"values": [{}]}, "mark": {"type": "text", "text": "Base Peak: 368/1,844,304", "align": "right", "baseline": "alphabetic", "dx": 6, "dy": -3, "fontSize": 9, "font": "Liberation Sans Narrow, Arial Narrow, DejaVu Sans Condensed, sans-serif"}, "encoding": {"x": {"datum": 498, "type": "quantitative"}, "y": {"datum": 200, "type": "quantitative"}}}
  ]},
 {"width": 644, "height": 141, "view": {"fill": "#f0f0f0", "stroke": "#b4b4b4"},
  "title": {"text": "Event#: 2 Product Ion Scan(E+)\u00a0\u00a0\u00a0Precursor: 366,00 CE:-10,0\u00a0\u00a0\u00a0Ret. Time : [0,283->0,333]-[0,543->0,963]\u00a0\u00a0\u00a0Scan# : [142->167]-[272->482]", "offset": -11.5, "dx": 2},
  "layer": [
   {"data": {"values": [{}]}, "mark": {"type": "rect", "fill": "#ffffff", "stroke": "#000000", "strokeWidth": 1}, "encoding": {"x": {"datum": 57, "type": "quantitative"}, "x2": {"datum": 400}, "y": {"datum": 0, "type": "quantitative"}, "y2": {"datum": 200}}},
   {"transform": [{"filter": "datum.s === '03b'"}], "mark": {"type": "rule", "color": "#1a1a1a", "strokeWidth": 1}, "encoding": {
     "x": {"field": "mz", "type": "quantitative", "scale": {"domain": [57, 400], "range": [40, 633], "nice": false, "zero": false}, "axis": {"title": "m/z", "tickCount": 100, "grid": true, "values": [60,70,80,90,100,110,120,130,140,150,160,170,180,190,200,210,220,230,240,250,260,270,280,290,300,310,320,330,340,350,360,370,380,390], "tickDash": {"condition": {"test": "datum.value % 50 === 0", "value": [10, 0]}, "value": [2, 10]}, "gridOpacity": {"condition": {"test": "datum.value % 50 === 0", "value": 1}, "value": 0}}},
     "y": {"field": "int", "type": "quantitative", "scale": {"domain": [0, 200], "range": [117, 36], "nice": false, "zero": false}, "axis": {"title": "b", "tickCount": 100, "grid": true, "values": [0,20,40,60,80,100,120,140,160,180,200], "tickDash": {"condition": {"test": "datum.value % 100 === 0", "value": [10, 0]}, "value": [2, 10]}, "gridOpacity": {"condition": {"test": "datum.value === 100", "value": 1}, "value": 0}}},
     "y2": {"datum": 0}}},
   {"transform": [{"filter": "datum.s === '03b' && datum.lab !== ''"}], "mark": {"type": "text", "color": "#2626c8", "fontSize": 14, "baseline": "alphabetic", "dy": -1}, "encoding": {"x": {"field": "mz", "type": "quantitative"}, "y": {"field": "int", "type": "quantitative"}, "text": {"field": "lab"}}},
   {"data": {"values": [{}]}, "mark": {"type": "text", "text": "Inten.", "align": "left", "baseline": "alphabetic", "dx": -4, "dy": -2, "fontSize": 8, "font": "Liberation Sans Narrow, Arial Narrow, DejaVu Sans Condensed, sans-serif"}, "encoding": {"x": {"datum": 57, "type": "quantitative"}, "y": {"datum": 200, "type": "quantitative"}}},
   {"data": {"values": [{}]}, "mark": {"type": "text", "text": "Base Peak: 366/466,238", "align": "right", "baseline": "alphabetic", "dx": 6, "dy": -3, "fontSize": 9, "font": "Liberation Sans Narrow, Arial Narrow, DejaVu Sans Condensed, sans-serif"}, "encoding": {"x": {"datum": 400, "type": "quantitative"}, "y": {"datum": 200, "type": "quantitative"}}}
  ]},
 {"width": 644, "height": 141, "view": {"fill": "#f0f0f0", "stroke": "#b4b4b4"},
  "title": {"text": "Event#: 3 Product Ion Scan(E+)\u00a0\u00a0\u00a0Precursor: 366,00 CE:-20,0\u00a0\u00a0\u00a0Ret. Time : [0,285->0,335]-[0,545->0,965]\u00a0\u00a0\u00a0Scan# : [143->168]-[273->483]", "offset": -11.5, "dx": 2},
  "layer": [
   {"data": {"values": [{}]}, "mark": {"type": "rect", "fill": "#ffffff", "stroke": "#000000", "strokeWidth": 1}, "encoding": {"x": {"datum": 57, "type": "quantitative"}, "x2": {"datum": 400}, "y": {"datum": 0, "type": "quantitative"}, "y2": {"datum": 200}}},
   {"transform": [{"filter": "datum.s === '03c'"}], "mark": {"type": "rule", "color": "#1a1a1a", "strokeWidth": 1}, "encoding": {
     "x": {"field": "mz", "type": "quantitative", "scale": {"domain": [57, 400], "range": [40, 633], "nice": false, "zero": false}, "axis": {"title": "m/z", "tickCount": 100, "grid": true, "values": [60,70,80,90,100,110,120,130,140,150,160,170,180,190,200,210,220,230,240,250,260,270,280,290,300,310,320,330,340,350,360,370,380,390], "tickDash": {"condition": {"test": "datum.value % 50 === 0", "value": [10, 0]}, "value": [2, 10]}, "gridOpacity": {"condition": {"test": "datum.value % 50 === 0", "value": 1}, "value": 0}}},
     "y": {"field": "int", "type": "quantitative", "scale": {"domain": [0, 200], "range": [117, 36], "nice": false, "zero": false}, "axis": {"title": "c", "tickCount": 100, "grid": true, "values": [0,20,40,60,80,100,120,140,160,180,200], "tickDash": {"condition": {"test": "datum.value % 100 === 0", "value": [10, 0]}, "value": [2, 10]}, "gridOpacity": {"condition": {"test": "datum.value === 100", "value": 1}, "value": 0}}},
     "y2": {"datum": 0}}},
   {"transform": [{"filter": "datum.s === '03c' && datum.lab !== ''"}], "mark": {"type": "text", "color": "#2626c8", "fontSize": 14, "baseline": "alphabetic", "dy": -1}, "encoding": {"x": {"field": "mz", "type": "quantitative"}, "y": {"field": "int", "type": "quantitative"}, "text": {"field": "lab"}}},
   {"data": {"values": [{}]}, "mark": {"type": "text", "text": "Inten.", "align": "left", "baseline": "alphabetic", "dx": -4, "dy": -2, "fontSize": 8, "font": "Liberation Sans Narrow, Arial Narrow, DejaVu Sans Condensed, sans-serif"}, "encoding": {"x": {"datum": 57, "type": "quantitative"}, "y": {"datum": 200, "type": "quantitative"}}},
   {"data": {"values": [{}]}, "mark": {"type": "text", "text": "Base Peak: 243/136,062", "align": "right", "baseline": "alphabetic", "dx": 6, "dy": -3, "fontSize": 9, "font": "Liberation Sans Narrow, Arial Narrow, DejaVu Sans Condensed, sans-serif"}, "encoding": {"x": {"datum": 400, "type": "quantitative"}, "y": {"datum": 200, "type": "quantitative"}}}
  ]},
 {"width": 644, "height": 141, "view": {"fill": "#f0f0f0", "stroke": "#b4b4b4"},
  "title": {"text": "Event#: 4 Product Ion Scan(E+)\u00a0\u00a0\u00a0Precursor: 366,00 CE:-30,0\u00a0\u00a0\u00a0Ret. Time : [0,287->0,337]-[0,547->0,967]\u00a0\u00a0\u00a0Scan# : [144->169]-[274->484]", "offset": -11.5, "dx": 2},
  "layer": [
   {"data": {"values": [{}]}, "mark": {"type": "rect", "fill": "#ffffff", "stroke": "#000000", "strokeWidth": 1}, "encoding": {"x": {"datum": 57, "type": "quantitative"}, "x2": {"datum": 400}, "y": {"datum": 0, "type": "quantitative"}, "y2": {"datum": 200}}},
   {"transform": [{"filter": "datum.s === '03d'"}], "mark": {"type": "rule", "color": "#1a1a1a", "strokeWidth": 1}, "encoding": {
     "x": {"field": "mz", "type": "quantitative", "scale": {"domain": [57, 400], "range": [40, 633], "nice": false, "zero": false}, "axis": {"title": "m/z", "tickCount": 100, "grid": true, "values": [60,70,80,90,100,110,120,130,140,150,160,170,180,190,200,210,220,230,240,250,260,270,280,290,300,310,320,330,340,350,360,370,380,390], "tickDash": {"condition": {"test": "datum.value % 50 === 0", "value": [10, 0]}, "value": [2, 10]}, "gridOpacity": {"condition": {"test": "datum.value % 50 === 0", "value": 1}, "value": 0}}},
     "y": {"field": "int", "type": "quantitative", "scale": {"domain": [0, 200], "range": [117, 36], "nice": false, "zero": false}, "axis": {"title": "d", "tickCount": 100, "grid": true, "values": [0,20,40,60,80,100,120,140,160,180,200], "tickDash": {"condition": {"test": "datum.value % 100 === 0", "value": [10, 0]}, "value": [2, 10]}, "gridOpacity": {"condition": {"test": "datum.value === 100", "value": 1}, "value": 0}}},
     "y2": {"datum": 0}}},
   {"transform": [{"filter": "datum.s === '03d' && datum.lab !== ''"}], "mark": {"type": "text", "color": "#2626c8", "fontSize": 14, "baseline": "alphabetic", "dy": -1}, "encoding": {"x": {"field": "mz", "type": "quantitative"}, "y": {"field": "int", "type": "quantitative"}, "text": {"field": "lab"}}},
   {"data": {"values": [{}]}, "mark": {"type": "text", "text": "Inten.", "align": "left", "baseline": "alphabetic", "dx": -4, "dy": -2, "fontSize": 8, "font": "Liberation Sans Narrow, Arial Narrow, DejaVu Sans Condensed, sans-serif"}, "encoding": {"x": {"datum": 57, "type": "quantitative"}, "y": {"datum": 200, "type": "quantitative"}}},
   {"data": {"values": [{}]}, "mark": {"type": "text", "text": "Base Peak: 107/158,558", "align": "right", "baseline": "alphabetic", "dx": 6, "dy": -3, "fontSize": 9, "font": "Liberation Sans Narrow, Arial Narrow, DejaVu Sans Condensed, sans-serif"}, "encoding": {"x": {"datum": 400, "type": "quantitative"}, "y": {"datum": 200, "type": "quantitative"}}}
  ]},
 {"width": 644, "height": 141, "view": {"fill": "#f0f0f0", "stroke": "#b4b4b4"},
  "title": {"text": "Event#: 5 Product Ion Scan(E+)\u00a0\u00a0\u00a0Precursor: 366,00 CE:-40,0\u00a0\u00a0\u00a0Ret. Time : [0,288->0,338]-[0,548->0,968]\u00a0\u00a0\u00a0Scan# : [145->170]-[275->485]", "offset": -11.5, "dx": 2},
  "layer": [
   {"data": {"values": [{}]}, "mark": {"type": "rect", "fill": "#ffffff", "stroke": "#000000", "strokeWidth": 1}, "encoding": {"x": {"datum": 57, "type": "quantitative"}, "x2": {"datum": 400}, "y": {"datum": 0, "type": "quantitative"}, "y2": {"datum": 200}}},
   {"transform": [{"filter": "datum.s === '03e'"}], "mark": {"type": "rule", "color": "#1a1a1a", "strokeWidth": 1}, "encoding": {
     "x": {"field": "mz", "type": "quantitative", "scale": {"domain": [57, 400], "range": [40, 633], "nice": false, "zero": false}, "axis": {"title": "m/z", "tickCount": 100, "grid": true, "values": [60,70,80,90,100,110,120,130,140,150,160,170,180,190,200,210,220,230,240,250,260,270,280,290,300,310,320,330,340,350,360,370,380,390], "tickDash": {"condition": {"test": "datum.value % 50 === 0", "value": [10, 0]}, "value": [2, 10]}, "gridOpacity": {"condition": {"test": "datum.value % 50 === 0", "value": 1}, "value": 0}}},
     "y": {"field": "int", "type": "quantitative", "scale": {"domain": [0, 200], "range": [117, 36], "nice": false, "zero": false}, "axis": {"title": "e", "tickCount": 100, "grid": true, "values": [0,20,40,60,80,100,120,140,160,180,200], "tickDash": {"condition": {"test": "datum.value % 100 === 0", "value": [10, 0]}, "value": [2, 10]}, "gridOpacity": {"condition": {"test": "datum.value === 100", "value": 1}, "value": 0}}},
     "y2": {"datum": 0}}},
   {"transform": [{"filter": "datum.s === '03e' && datum.lab !== ''"}], "mark": {"type": "text", "color": "#2626c8", "fontSize": 14, "baseline": "alphabetic", "dy": -1}, "encoding": {"x": {"field": "mz", "type": "quantitative"}, "y": {"field": "int", "type": "quantitative"}, "text": {"field": "lab"}}},
   {"data": {"values": [{}]}, "mark": {"type": "text", "text": "Inten.", "align": "left", "baseline": "alphabetic", "dx": -4, "dy": -2, "fontSize": 8, "font": "Liberation Sans Narrow, Arial Narrow, DejaVu Sans Condensed, sans-serif"}, "encoding": {"x": {"datum": 57, "type": "quantitative"}, "y": {"datum": 200, "type": "quantitative"}}},
   {"data": {"values": [{}]}, "mark": {"type": "text", "text": "Base Peak: 107/ 84,766", "align": "right", "baseline": "alphabetic", "dx": 6, "dy": -3, "fontSize": 9, "font": "Liberation Sans Narrow, Arial Narrow, DejaVu Sans Condensed, sans-serif"}, "encoding": {"x": {"datum": 400, "type": "quantitative"}, "y": {"datum": 200, "type": "quantitative"}}}
  ]}
]
}
